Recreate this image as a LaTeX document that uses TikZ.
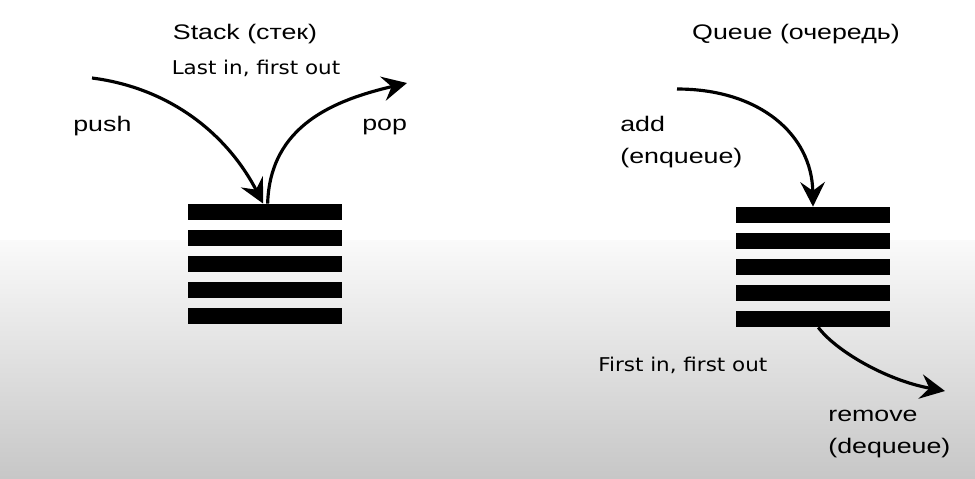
\documentclass[tikz,border=0pt]{standalone}
\usepackage{fontspec}
\setmainfont{Liberation Sans}[FakeStretch=1.27]
\newfontfamily\mottofont{DejaVu Sans}[FakeStretch=1.13]
\usetikzlibrary{
  arrows.meta
  % for the stack/queue arrows
}

\begin{document}
\begin{tikzpicture}[x=0.02cm, y=-0.02cm,
    bar/.style={fill=black, draw=none, inner sep=0,
      minimum width=3.08cm, minimum height=0.32cm},
    flow/.style={line width=1.8pt,
      -{Stealth[length=14pt, width=14pt, inset=5pt]}},
    txt/.style={font=\fontsize{12pt}{18pt}\selectfont,
      inner sep=0, align=left},
    motto/.style={font=\mottofont\fontsize{10.8pt}{12pt}\selectfont,
      inner sep=0}]
  % background
  \useasboundingbox (0,0) rectangle (975,478);
  \fill [white] (0,0) rectangle (975,240);
  \shade [top color=white!98!black, bottom color=black!22]
    (0,240) rectangle (975,478);

  % stack and queue
  \foreach \i in {1,...,5} {
    \node [bar] (s\i) at (265,186+26*\i) {};
    \node [bar] (q\i) at (813,189+26*\i) {};
  }

  \coordinate (pushin) at (92,78);
  \coordinate (popout) at (407,83);
  \coordinate (addin) at (677,89);
  \coordinate (rmout) at (945,391);

  \draw [flow] (pushin) .. controls (170,88) and (227,134) .. ([xshift=-1pt]s1.north);
  \draw [flow] ([xshift=1.5pt]s1.north) .. controls (270,125) and (335,100) .. (popout);
  \draw [flow] (addin) .. controls (760,89) and (812,135) .. (q1.north);
  \draw [flow] ([xshift=3pt]q5.south) .. controls (835,350) and (885,380) .. (rmout);

  % labels
  \node [txt, anchor=base] (stack) at (245,39) {Stack (стек)};
  \node [motto, anchor=base] (lifo) at (256,74) {Last in, first out};
  \node [txt, anchor=base west] (push) at (73,131) {push};
  \node [txt, anchor=base west] (pop) at (362,130) {pop};

  \node [txt, anchor=base] (queue) at (796,39) {Queue (очередь)};
  \node [txt, anchor=base west] (add) at (620,163) {add\\(enqueue)};
  \node [motto, anchor=base west] (fifo) at (598,371) {First in, first out};
  \node [txt, anchor=base west] (remove) at (828,453) {remove\\(dequeue)};
\end{tikzpicture}
\end{document}
